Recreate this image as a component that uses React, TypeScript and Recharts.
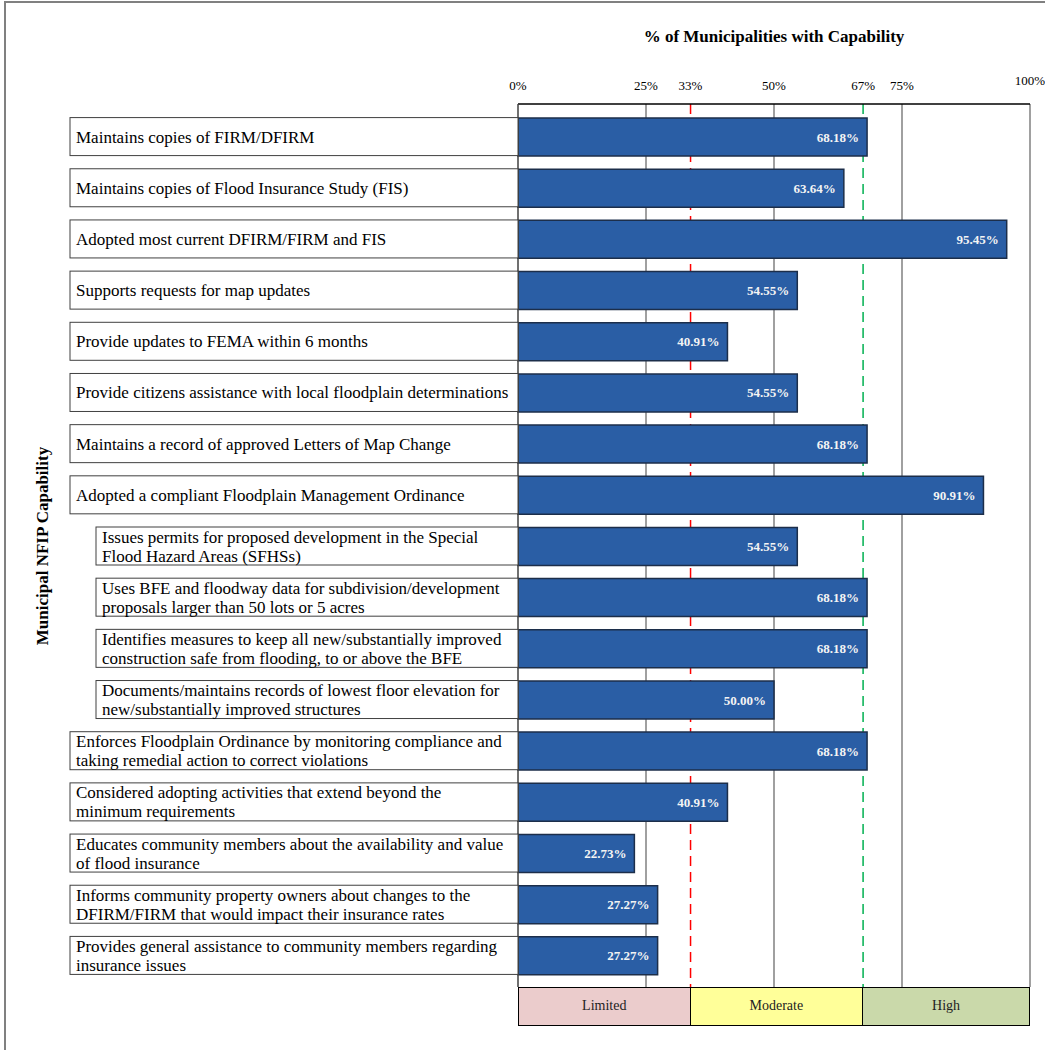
import { BarChart, Bar, XAxis, YAxis, ReferenceLine, LabelList } from 'recharts';

const FONT = '"Liberation Serif", "Times New Roman", serif';

const CATEGORIES = [
  'Maintains copies of FIRM/DFIRM',
  'Maintains copies of Flood Insurance Study (FIS)',
  'Adopted most current DFIRM/FIRM and FIS',
  'Supports requests for map updates',
  'Provide updates to FEMA within 6 months',
  'Provide citizens assistance with local floodplain determinations',
  'Maintains a record of approved Letters of Map Change',
  'Adopted a compliant Floodplain Management Ordinance',
  'Issues permits for proposed development in the Special\nFlood Hazard Areas (SFHSs)',
  'Uses BFE and floodway data for subdivision/development\nproposals larger than 50 lots or 5 acres',
  'Identifies measures to keep all new/substantially improved\nconstruction safe from flooding, to or above the BFE',
  'Documents/maintains records of lowest floor elevation for\nnew/substantially improved structures',
  'Enforces Floodplain Ordinance by monitoring compliance and\ntaking remedial action to correct violations',
  'Considered adopting activities that extend beyond the\nminimum requirements',
  'Educates community members about the availability and value\nof flood insurance',
  'Informs community property owners about changes to the\nDFIRM/FIRM that would impact their insurance rates',
  'Provides general assistance to community members regarding\ninsurance issues',
];

const VALUES = [
  68.18, 63.64, 95.45, 54.55, 40.91, 54.55, 68.18, 90.91,
  54.55, 68.18, 68.18, 50.0, 68.18, 40.91, 22.73, 27.27, 27.27,
];

// sub-items of the ordinance row, drawn indented
const INDENTED = [8, 9, 10, 11];

const TICK_VALUES = [0, 25, 33.7, 50, 67.4, 75, 100];
const TICK_LABELS = ['0%', '25%', '33%', '50%', '67%', '75%', '100%'];
const GRID_LINES = [25, 50, 75];

const TIER_NAMES = ['Limited', 'Moderate', 'High'];
const TIER_BOUNDS = [0, 33.7, 67.4, 100];
const TIER_COLORS = ['#ebcccc', '#ffff99', '#cad9aa'];

const data = CATEGORIES.map((name, i) => ({ name, value: VALUES[i] }));

const PLOT_LEFT = 518;
const PLOT_WIDTH = 512;

function CategoryTick(props: any) {
  const { y, payload } = props;
  const i = CATEGORIES.indexOf(payload.value);
  const left = INDENTED.includes(i) ? 96 : 70;
  const lines: string[] = String(payload.value).split('\n');
  return (
    <g>
      <rect x={left} y={y - 19} width={PLOT_LEFT - left} height={38} fill="#fff" stroke="#404040" strokeWidth={1} />
      <text fontFamily={FONT} fontSize={17} fill="#000">
        {lines.map((l, k) => (
          <tspan key={k} x={left + 6} y={y + (k - (lines.length - 1) / 2) * 19 + 6}>
            {l}
          </tspan>
        ))}
      </text>
    </g>
  );
}

function PercentTick(props: any) {
  const { x, payload } = props;
  const i = TICK_VALUES.indexOf(payload.value);
  return (
    <text x={x} y={payload.value === 100 ? 85 : 90} textAnchor="middle" fontFamily={FONT} fontSize={13} fill="#000">
      {TICK_LABELS[i]}
    </text>
  );
}

export default function App() {
  return (
    <div style={{ position: 'absolute', left: 0, top: 0, width: 1045, height: 1050, background: '#fff', overflow: 'hidden', fontFamily: FONT }}>
      <div style={{ position: 'absolute', left: 4, top: 1, width: 1100, height: 1100, border: '2px solid #808080' }} />
      <div style={{ position: 'absolute', left: PLOT_LEFT, width: PLOT_WIDTH, top: 27, lineHeight: '20px', textAlign: 'center', fontWeight: 'bold', fontSize: 17 }}>
        % of Municipalities with Capability
      </div>
      <div style={{ position: 'absolute', left: 43 - 150, top: 546 - 10, width: 300, height: 20, lineHeight: '20px', textAlign: 'center', fontWeight: 'bold', fontSize: 17, transform: 'rotate(-90deg)' }}>
        Municipal NFIP Capability
      </div>
      <div style={{ position: 'absolute', left: 0, top: 0 }}>
        <BarChart width={1045} height={1050} data={data} layout="vertical" margin={{ top: 74, right: 15, bottom: 63, left: 70 }}>
          <XAxis
            type="number"
            orientation="top"
            domain={[0, 100]}
            ticks={TICK_VALUES}
            interval={0}
            height={30}
            tick={PercentTick}
            tickLine={false}
            axisLine={{ stroke: '#000', strokeWidth: 1.5 }}
          />
          <YAxis
            type="category"
            dataKey="name"
            width={448}
            interval={0}
            tick={CategoryTick}
            tickLine={false}
            axisLine={{ stroke: '#404040', strokeWidth: 1.5 }}
            padding={{ top: 7, bottom: 6 }}
          />
          {GRID_LINES.map((v) => (
            <ReferenceLine key={v} x={v} stroke="#808080" strokeWidth={1.5} zIndex={-10} />
          ))}
          <ReferenceLine x={100} stroke="#808080" strokeWidth={1.5} />
          <ReferenceLine x={TIER_BOUNDS[1]} stroke="#ff0000" strokeWidth={1.5} strokeDasharray="10 6" zIndex={-10} />
          <ReferenceLine x={TIER_BOUNDS[2]} stroke="#00b050" strokeWidth={1.5} strokeDasharray="10 6" zIndex={-10} />
          <Bar dataKey="value" fill="#2a5ea5" stroke="#1c2e4a" strokeWidth={1.5} barSize={38} isAnimationActive={false}>
            <LabelList
              dataKey="value"
              position="insideRight"
              offset={8}
              formatter={(v: any) => `${Number(v).toFixed(2)}%`}
              fill="#f4f4f4"
              fontSize={13}
              fontWeight="bold"
              fontFamily={FONT}
            />
          </Bar>
        </BarChart>
      </div>
      <div style={{ position: 'absolute', left: PLOT_LEFT, top: 987, height: 39, display: 'flex' }}>
        {TIER_NAMES.map((name, i) => (
          <div
            key={name}
            style={{
              boxSizing: 'border-box',
              width: ((TIER_BOUNDS[i + 1] - TIER_BOUNDS[i]) / 100) * PLOT_WIDTH,
              height: 39,
              background: TIER_COLORS[i],
              border: '1.5px solid #000',
              borderLeftWidth: i === 0 ? 1.5 : 0,
              lineHeight: '36px',
              textAlign: 'center',
              fontSize: 14,
              color: '#222',
            }}
          >
            {name}
          </div>
        ))}
      </div>
    </div>
  );
}
